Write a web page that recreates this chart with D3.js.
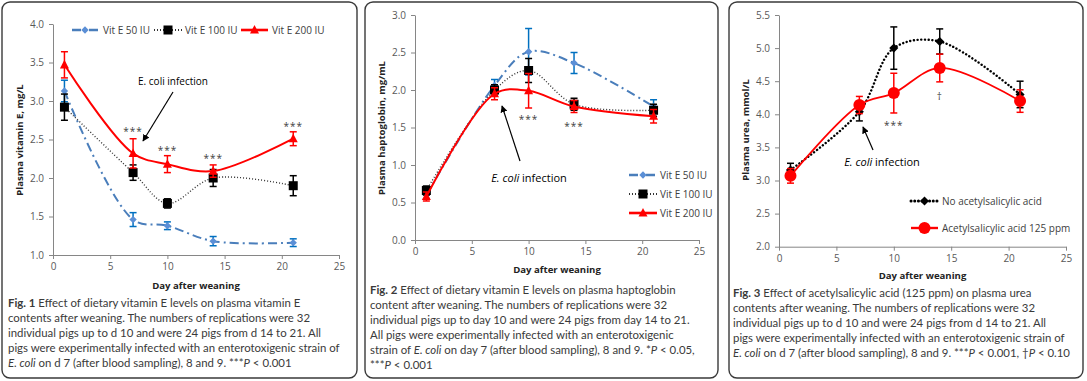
<!DOCTYPE html>
<html><head><meta charset="utf-8">
<script src="https://cdn.jsdelivr.net/npm/d3@7"></script>
<style>
html,body{margin:0;padding:0;background:#fff;}
svg{display:block;}
</style></head>
<body>
<script>
// ---------- DATA ----------
const days = [1, 7, 10, 14, 21];
const xTickLabels = [0, 5, 10, 15, 20, 25];

// Fig. 1 plasma vitamin E (mg/L)
const f1Ticks = [1.0, 1.5, 2.0, 2.5, 3.0, 3.5, 4.0];
const f1VitE50 = [3.13, 1.46, 1.38, 1.18, 1.16];
const f1VitE50Err = [0.14, 0.09, 0.05, 0.06, 0.05];
const f1VitE100 = [2.92, 2.07, 1.67, 2.00, 1.90];
const f1VitE100Err = [0.17, 0.10, 0.06, 0.11, 0.13];
const f1VitE200 = [3.47, 2.32, 2.18, 2.09, 2.51];
const f1VitE200Err = [0.17, 0.19, 0.11, 0.08, 0.09];
const f1Stars = ["", "***", "***", "***", "***"];

// Fig. 2 plasma haptoglobin (mg/mL)
const f2Ticks = [0.0, 0.5, 1.0, 1.5, 2.0, 2.5, 3.0];
const f2VitE50 = [0.60, 2.06, 2.51, 2.36, 1.78];
const f2VitE50Err = [0.05, 0.08, 0.31, 0.14, 0.09];
const f2VitE100 = [0.66, 2.00, 2.26, 1.81, 1.73];
const f2VitE100Err = [0.06, 0.07, 0.16, 0.08, 0.08];
const f2VitE200 = [0.58, 1.95, 1.99, 1.78, 1.65];
const f2VitE200Err = [0.06, 0.08, 0.23, 0.08, 0.09];
const f2Stars = ["", "", "***", "***", ""];

// Fig. 3 plasma urea (mmol/L)
const f3Ticks = [2.0, 2.5, 3.0, 3.5, 4.0, 4.5, 5.0, 5.5];
const f3NoASA = [3.16, 4.04, 5.00, 5.10, 4.30];
const f3NoASAErr = [0.10, 0.14, 0.32, 0.19, 0.20];
const f3ASA = [3.07, 4.14, 4.32, 4.70, 4.20];
const f3ASAErr = [0.11, 0.13, 0.30, 0.21, 0.17];
const f3Marks = ["", "", "***", "\u2020", ""];

const seriesNames1 = ["Vit E 50 IU", "Vit E 100 IU", "Vit E 200 IU"];
const seriesNames3 = ["No acetylsalicylic acid", "Acetylsalicylic acid  125 ppm"];

// ---------- STYLES ----------
const BLUE = {line:"#4a7ebb", marker:"#5b8fd6", err:"#0070c0", width:2, dash:"9,4,2,4", shape:"diamond", ms:5.2};
const BLACK = {line:"#333", marker:"#000", err:"#000", width:1.4, dash:"1,2", shape:"square", ms:9};
const RED = {line:"#ff0000", marker:"#ff0000", err:"#ff0000", width:2, dash:null, shape:"triangle", ms:9};
const BLACK3 = {line:"#000", marker:"#000", err:"#000", width:2.4, dash:"0.1,3.6", cap:"round", shape:"diamond", ms:6.4};
const RED3 = {line:"#ff0000", marker:"#ff0000", err:"#ff0000", width:1.8, dash:null, shape:"circle", ms:6};

const W = 1087, H = 381;
const svg = d3.select("body").append("svg").attr("width", W).attr("height", H)
  .style("font-family", "'Open Sans', sans-serif");

svg.append("defs").append("marker")
  .attr("id", "arrow").attr("viewBox", "0 0 10 10").attr("refX", 9).attr("refY", 5)
  .attr("markerWidth", 7).attr("markerHeight", 7).attr("orient", "auto-start-reverse")
  .attr("markerUnits", "userSpaceOnUse")
  .append("path").attr("d", "M0,0 L10,5 L0,10 z").attr("fill", "#000");

function drawMarker(g, cx, cy, st) {
  if (st.shape === "diamond") {
    const s = st.ms;
    g.append("rect").attr("x", -s/2).attr("y", -s/2).attr("width", s).attr("height", s)
      .attr("transform", `translate(${cx},${cy}) rotate(45)`).attr("fill", st.marker);
  } else if (st.shape === "square") {
    const s = st.ms;
    g.append("rect").attr("x", cx - s/2).attr("y", cy - s/2).attr("width", s).attr("height", s).attr("fill", st.marker);
  } else if (st.shape === "triangle") {
    const s = st.ms;
    g.append("path").attr("d", `M${cx},${cy - s*0.55} L${cx + s/2},${cy + s*0.4} L${cx - s/2},${cy + s*0.4} Z`).attr("fill", st.marker);
  } else if (st.shape === "circle") {
    g.append("circle").attr("cx", cx).attr("cy", cy).attr("r", st.ms).attr("fill", st.marker);
  }
}

function panel(cfg) {
  const g = svg.append("g");
  g.append("rect").attr("x", cfg.box[0]).attr("y", cfg.box[1]).attr("width", cfg.box[2]).attr("height", cfg.box[3])
    .attr("rx", 8).attr("fill", "#fff").attr("stroke", "#3a3a3a").attr("stroke-width", 1.4);

  const x = d3.scaleLinear().domain([0, 25]).range(cfg.xr);
  const y = d3.scaleLinear().domain([cfg.ticks[0], cfg.ticks[cfg.ticks.length - 1]]).range(cfg.yr);

  const ya = g.append("g").attr("transform", `translate(${cfg.xr[0]},0)`)
    .call(d3.axisLeft(y).tickValues(cfg.ticks).tickFormat(d3.format(".1f")).tickSize(4).tickPadding(5).tickSizeOuter(0));
  const xa = g.append("g").attr("transform", `translate(0,${cfg.yr[0]})`)
    .call(d3.axisBottom(x).tickValues(xTickLabels).tickFormat(d3.format("d")).tickSize(4).tickPadding(4).tickSizeOuter(0));
  [ya, xa].forEach(a => {
    a.select(".domain").attr("stroke", "#868686");
    a.selectAll(".tick line").attr("stroke", "#868686");
    a.selectAll(".tick text").attr("fill", "#595959").style("font-size", "10px").style("font-family", "'Open Sans', sans-serif");
  });

  // axis titles
  g.append("text").attr("x", (cfg.xr[0] + cfg.xr[1]) / 2).attr("y", cfg.xTitleY)
    .attr("text-anchor", "middle").style("font-size", "9.6px").style("font-weight", "bold").attr("fill", "#222")
    .text("Day after weaning");
  g.append("text").attr("transform", `translate(${cfg.yTitleX},${cfg.yTitleY}) rotate(-90)`)
    .attr("text-anchor", "middle").style("font-size", "9.6px").style("font-weight", "bold").attr("fill", "#222")
    .text(cfg.yTitle);

  // series
  const line = d3.line().x((d, i) => x(days[i])).y(d => y(d)).curve(d3.curveCatmullRom.alpha(0.5));
  cfg.series.forEach(s => {
    const sg = g.append("g");
    const p = sg.append("path").attr("d", line(s.values)).attr("fill", "none")
      .attr("stroke", s.st.line).attr("stroke-width", s.st.width);
    if (s.st.dash) p.attr("stroke-dasharray", s.st.dash);
    if (s.st.cap) p.attr("stroke-linecap", s.st.cap);
    s.values.forEach((v, i) => {
      const cx = x(days[i]), e = s.err[i];
      const y1 = y(v + e), y2 = y(v - e);
      sg.append("line").attr("x1", cx).attr("x2", cx).attr("y1", y1).attr("y2", y2).attr("stroke", s.st.err).attr("stroke-width", 1.5);
      [y1, y2].forEach(yy => sg.append("line").attr("x1", cx - 3.5).attr("x2", cx + 3.5).attr("y1", yy).attr("y2", yy)
        .attr("stroke", s.st.err).attr("stroke-width", 1.5));
    });
    s.values.forEach((v, i) => drawMarker(sg, x(days[i]), y(v), s.st));
  });

  // significance marks
  cfg.marks.forEach((m, i) => {
    if (!m) return;
    const ref = cfg.markRef[i];
    g.append("text").attr("x", x(days[i])).attr("y", ref)
      .attr("text-anchor", "middle").style("font-size", "10px").attr("fill", "#404040")
      .style("letter-spacing", "1px").text(m);
  });

  // E. coli annotation
  const a = cfg.anno;
  const t = g.append("text").attr("x", a.tx).attr("y", a.ty).attr("text-anchor", "middle")
    .style("font-size", a.fs + "px").attr("fill", "#000");
  if (a.italic) {
    t.append("tspan").style("font-style", "italic").text("E. coli");
    t.append("tspan").text(" infection");
  } else t.text("E. coli infection");
  g.append("line").attr("x1", a.from[0]).attr("y1", a.from[1]).attr("x2", a.to[0]).attr("y2", a.to[1])
    .attr("stroke", "#000").attr("stroke-width", 1.2).attr("marker-end", "url(#arrow)");

  // legend
  cfg.legend.forEach(l => {
    const lg = g.append("g");
    const p = lg.append("line").attr("x1", l.x0).attr("x2", l.x1).attr("y1", l.y).attr("y2", l.y)
      .attr("stroke", l.st.line).attr("stroke-width", l.st.width + 0.6);
    if (l.st.dash) p.attr("stroke-dasharray", l.legendDash || l.st.dash);
    if (l.st.cap) p.attr("stroke-linecap", l.st.cap);
    drawMarker(lg, (l.x0 + l.x1) / 2, l.y, l.st);
    lg.append("text").attr("x", l.tx).attr("y", l.y + 3.5).style("font-size", "10px").attr("fill", "#404040").text(l.name);
  });

  // caption
  const cap = g.append("text").style("font-family", "Lato, sans-serif").style("font-size", cfg.capFs + "px").attr("fill", "#3a3a3a");
  cfg.caption.forEach((ln, i) => {
    const tl = cap.append("tspan").attr("x", cfg.capX).attr("y", cfg.capY + i * 15);
    ln.forEach(seg => {
      const sp = tl.append("tspan").text(seg[0]);
      if (seg[1] === "b") sp.style("font-weight", "bold");
      if (seg[1] === "i") sp.style("font-style", "italic");
    });
  });
}

panel({
  box: [2, 2, 355, 376], xr: [53, 339], yr: [255, 24], ticks: f1Ticks,
  xTitleY: 289, yTitleX: 23, yTitleY: 140, yTitle: "Plasma vitamin E, mg/L",
  series: [
    {values: f1VitE50, err: f1VitE50Err, st: BLUE},
    {values: f1VitE100, err: f1VitE100Err, st: BLACK},
    {values: f1VitE200, err: f1VitE200Err, st: RED}
  ],
  marks: f1Stars, markRef: [0, 135, 154, 162, 130],
  anno: {tx: 173, ty: 85, fs: 10, italic: false, from: [173, 92], to: [143, 141]},
  legend: [
    {x0: 72, x1: 98, y: 30, st: BLUE, tx: 103, name: seriesNames1[0], legendDash: "9,8"},
    {x0: 154, x1: 182, y: 30, st: BLACK, tx: 185, name: seriesNames1[1]},
    {x0: 241, x1: 268, y: 30, st: RED, tx: 272, name: seriesNames1[2]}
  ],
  capX: 8, capY: 307, capFs: 11.4,
  caption: [
    [["Fig. 1", "b"], [" Effect of dietary vitamin E levels on plasma vitamin E"]],
    [["contents after weaning. The numbers of replications were 32"]],
    [["individual pigs up to d 10 and were 24 pigs from d 14 to 21. All"]],
    [["pigs were experimentally infected with an enterotoxigenic strain of"]],
    [["E. coli", "i"], [" on d 7 (after blood sampling), 8 and 9. ***"], ["P", "i"], [" < 0.001"]]
  ]
});

panel({
  box: [365, 2, 353, 376], xr: [415, 699], yr: [240, 15], ticks: f2Ticks,
  xTitleY: 273, yTitleX: 385, yTitleY: 128, yTitle: "Plasma haptoglobin, mg/mL",
  series: [
    {values: f2VitE50, err: f2VitE50Err, st: BLUE},
    {values: f2VitE100, err: f2VitE100Err, st: BLACK},
    {values: f2VitE200, err: f2VitE200Err, st: RED}
  ],
  marks: f2Stars, markRef: [0, 0, 123, 130, 0],
  anno: {tx: 529, ty: 182, fs: 11, italic: true, from: [520, 161], to: [502, 106]},
  legend: [
    {x0: 629, x1: 657, y: 175, st: BLUE, tx: 660, name: seriesNames1[0], legendDash: "9,8"},
    {x0: 629, x1: 657, y: 194, st: BLACK, tx: 660, name: seriesNames1[1]},
    {x0: 629, x1: 657, y: 213, st: RED, tx: 660, name: seriesNames1[2]}
  ],
  capX: 370, capY: 294, capFs: 11.4,
  caption: [
    [["Fig. 2", "b"], [" Effect of dietary vitamin E levels on plasma haptoglobin"]],
    [["content after weaning. The numbers of replications were 32"]],
    [["individual pigs up to day 10 and were 24 pigs from day 14 to 21."]],
    [["All pigs were experimentally infected with an enterotoxigenic"]],
    [["strain of "], ["E. coli", "i"], [" on day 7 (after blood sampling), 8 and 9. *"], ["P", "i"], [" < 0.05,"]],
    [["***"], ["P", "i"], [" < 0.001"]]
  ]
});

panel({
  box: [729, 2, 354, 376], xr: [779, 1066], yr: [246.7, 15], ticks: f3Ticks,
  xTitleY: 279, yTitleX: 749, yTitleY: 130, yTitle: "Plasma urea, mmol/L",
  series: [
    {values: f3NoASA, err: f3NoASAErr, st: BLACK3},
    {values: f3ASA, err: f3ASAErr, st: RED3}
  ],
  marks: f3Marks, markRef: [0, 0, 129, 100, 0],
  anno: {tx: 882, ty: 166, fs: 11, italic: true, from: [873, 150], to: [863, 127]},
  legend: [
    {x0: 911, x1: 938, y: 201, st: BLACK3, tx: 942, name: seriesNames3[0]},
    {x0: 911, x1: 938, y: 228, st: RED3, tx: 942, name: seriesNames3[1]}
  ],
  capX: 733, capY: 297, capFs: 11.4,
  caption: [
    [["Fig. 3", "b"], [" Effect of acetylsalicylic acid (125 ppm) on plasma urea"]],
    [["contents after weaning. The numbers of replications were 32"]],
    [["individual pigs up to d 10 and were 24 pigs from d 14 to 21. All"]],
    [["pigs were experimentally infected with an enterotoxigenic strain of"]],
    [["E. coli", "i"], [" on d 7 (after blood sampling), 8 and 9. ***"], ["P", "i"], [" < 0.001, \u2020"], ["P", "i"], [" < 0.10"]]
  ]
});
</script>
</body></html>
